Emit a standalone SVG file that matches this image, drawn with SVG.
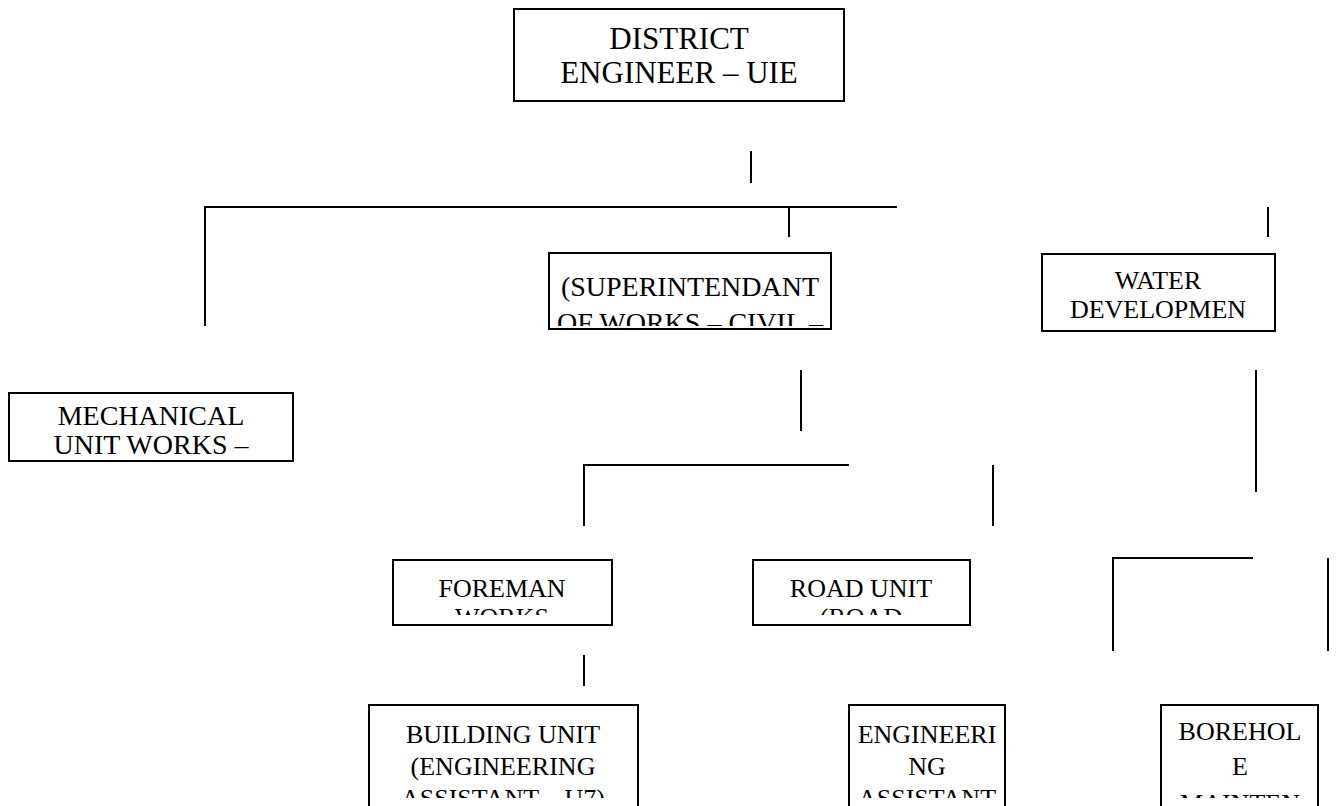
<svg xmlns="http://www.w3.org/2000/svg" width="1342" height="806" viewBox="0 0 1342 806">
<style>
.box{fill:#fff;stroke:#000;stroke-width:2}
.ln{stroke:#000;stroke-width:2;fill:none}
text{font-family:"Liberation Serif","Times New Roman",serif;fill:#000;text-anchor:middle;font-size:26px}
.big{font-size:31px}
.mid{font-size:28px}
</style>
<defs>
<clipPath id="cSup"><rect x="550" y="254" width="280" height="72"/></clipPath>
<clipPath id="cFore"><rect x="394" y="561" width="217" height="54"/></clipPath>
<clipPath id="cRoad"><rect x="754" y="561" width="215" height="54"/></clipPath>
<clipPath id="cBot"><rect x="0" y="700" width="1342" height="98"/></clipPath>
</defs>
<rect width="1342" height="806" fill="#fff"/>
<g id="connectors" class="ln">
<line x1="751" y1="151" x2="751" y2="183"/>
<line x1="204" y1="207" x2="897" y2="207"/>
<line x1="205" y1="206" x2="205" y2="326"/>
<line x1="789" y1="207" x2="789" y2="237"/>
<line x1="1268" y1="207" x2="1268" y2="237"/>
<line x1="801" y1="370" x2="801" y2="431"/>
<line x1="1256" y1="370" x2="1256" y2="492"/>
<line x1="583" y1="465" x2="849" y2="465"/>
<line x1="584" y1="464" x2="584" y2="526"/>
<line x1="993" y1="465" x2="993" y2="526"/>
<line x1="1112" y1="558" x2="1253" y2="558"/>
<line x1="1113" y1="557" x2="1113" y2="651"/>
<line x1="1328" y1="558" x2="1328" y2="651"/>
<line x1="584" y1="655" x2="584" y2="686"/>
</g>
<g id="district">
<rect class="box" x="514" y="9" width="330" height="92"/>
<text class="big" x="679" y="49">DISTRICT</text>
<text class="big" x="679" y="83">ENGINEER – UIE</text>
</g>
<g id="superintendant">
<rect class="box" x="549" y="253" width="282" height="76"/>
<g clip-path="url(#cSup)">
<text class="mid" x="690" y="296">(SUPERINTENDANT</text>
<text class="mid" x="690" y="332">OF WORKS – CIVIL –</text>
</g>
</g>
<g id="water">
<rect class="box" x="1042" y="254" width="233" height="77"/>
<text x="1158" y="289">WATER</text>
<text x="1158" y="318">DEVELOPMEN</text>
</g>
<g id="mechanical">
<rect class="box" x="9" y="393" width="284" height="68"/>
<text class="mid" x="151" y="425">MECHANICAL</text>
<text class="mid" x="151" y="454">UNIT WORKS –</text>
</g>
<g id="foreman">
<rect class="box" x="393" y="560" width="219" height="65"/>
<g clip-path="url(#cFore)">
<text x="502" y="597">FOREMAN</text>
<text x="502" y="626">WORKS</text>
</g>
</g>
<g id="road">
<rect class="box" x="753" y="560" width="217" height="65"/>
<g clip-path="url(#cRoad)">
<text x="861" y="597">ROAD UNIT</text>
<text x="861" y="626">(ROAD</text>
</g>
</g>
<g id="building">
<rect class="box" x="369" y="705" width="269" height="120"/>
<g clip-path="url(#cBot)">
<text x="503" y="743">BUILDING UNIT</text>
<text x="503" y="775">(ENGINEERING</text>
<text x="503" y="807">ASSISTANT – U7)</text>
</g>
</g>
<g id="engineering">
<rect class="box" x="849" y="705" width="156" height="120"/>
<g clip-path="url(#cBot)">
<text x="927" y="743">ENGINEERI</text>
<text x="927" y="775">NG</text>
<text x="927" y="807">ASSISTANT</text>
</g>
</g>
<g id="borehole">
<rect class="box" x="1161" y="705" width="157" height="120"/>
<g clip-path="url(#cBot)">
<text x="1240" y="740">BOREHOL</text>
<text x="1240" y="775">E</text>
<text x="1240" y="812">MAINTEN</text>
</g>
</g>
</svg>
